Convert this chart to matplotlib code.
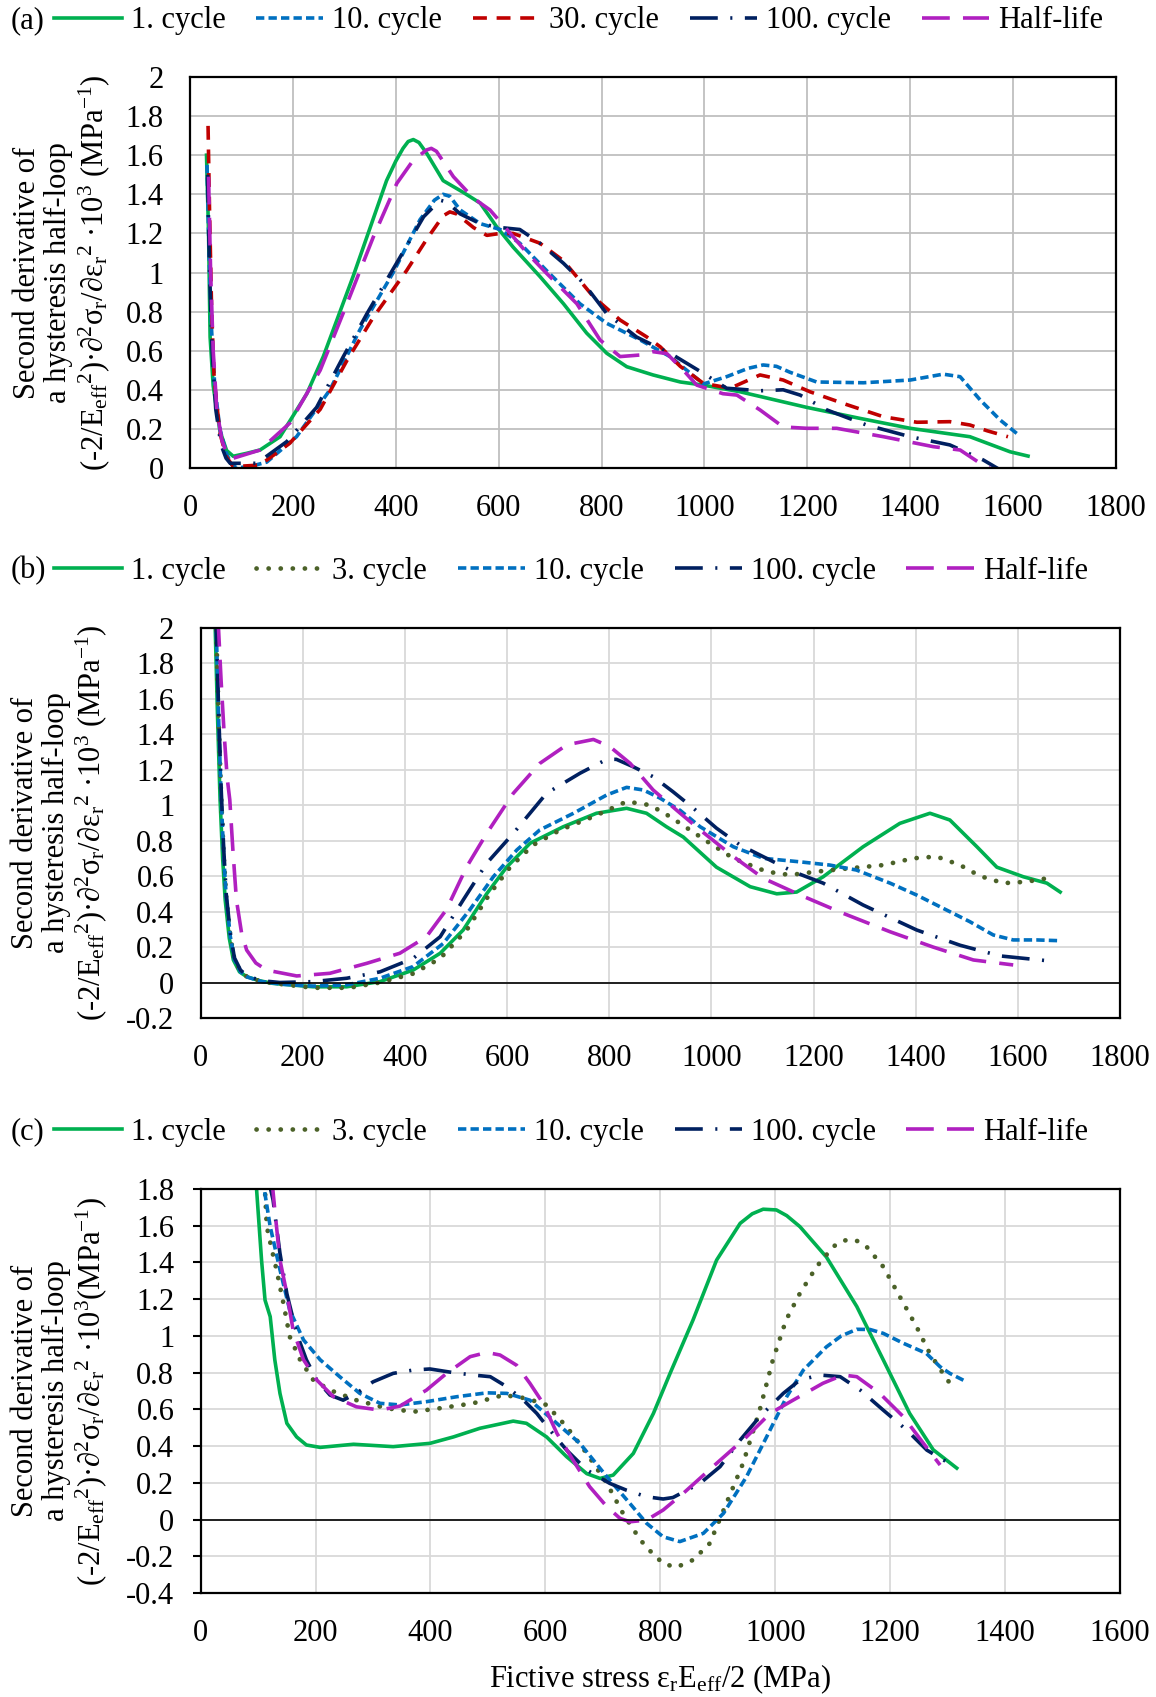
import matplotlib
matplotlib.use("Agg")
import matplotlib.pyplot as plt
from matplotlib.ticker import MultipleLocator, FuncFormatter

plt.rcParams['font.family'] = ['Liberation Serif', 'DejaVu Serif']
plt.rcParams['mathtext.fontset'] = 'custom'
plt.rcParams['mathtext.rm'] = 'Liberation Serif'
plt.rcParams['mathtext.it'] = 'Liberation Serif:italic'
plt.rcParams['font.size'] = 22
plt.rcParams['lines.scale_dashes'] = False

# ---- panel (a) ----
green_a_x = [32, 36, 39, 45, 58, 71, 84, 110, 136, 175, 227, 259, 317, 382, 400, 414, 424, 434, 445, 460, 492, 531, 564, 596, 628, 680, 726, 771, 810, 849, 900, 953, 998, 1069, 1199, 1300, 1400, 1516, 1594, 1629]
green_a_y = [1.60, 1.2, 0.67, 0.42, 0.19, 0.09, 0.06, 0.075, 0.092, 0.16, 0.38, 0.57, 0.98, 1.47, 1.57, 1.635, 1.67, 1.68, 1.665, 1.61, 1.47, 1.41, 1.355, 1.234, 1.13, 0.98, 0.84, 0.69, 0.587, 0.518, 0.476, 0.44, 0.424, 0.39, 0.31, 0.255, 0.203, 0.16, 0.083, 0.061]

blue_a_x = [33, 37, 42, 48, 58, 70, 80, 91, 120, 149, 207, 272, 330, 395, 447, 475, 492, 505, 525, 564, 603, 641, 693, 758, 810, 875, 933, 998, 1043, 1085, 1114, 1140, 1166, 1218, 1309, 1400, 1464, 1497, 1536, 1575, 1607]
blue_a_y = [1.55, 1.1, 0.7, 0.42, 0.2, 0.08, 0.02, 0.0, 0.01, 0.03, 0.16, 0.40, 0.706, 1.0, 1.27, 1.37, 1.40, 1.39, 1.32, 1.25, 1.22, 1.15, 1.01, 0.84, 0.74, 0.655, 0.57, 0.43, 0.467, 0.51, 0.527, 0.52, 0.49, 0.44, 0.436, 0.45, 0.48, 0.467, 0.348, 0.245, 0.177]

red_a_x = [35, 38, 42, 47, 58, 70, 84, 136, 194, 253, 305, 356, 421, 460, 492, 505, 518, 551, 577, 603, 628, 680, 726, 784, 836, 888, 914, 953, 998, 1050, 1108, 1153, 1205, 1270, 1348, 1413, 1477, 1516, 1550, 1590]
red_a_y = [1.75, 1.3, 0.8, 0.45, 0.18, 0.06, 0.007, 0.015, 0.127, 0.30, 0.55, 0.77, 1.01, 1.17, 1.29, 1.31, 1.30, 1.23, 1.19, 1.20, 1.20, 1.15, 1.06, 0.876, 0.757, 0.67, 0.62, 0.52, 0.433, 0.408, 0.476, 0.45, 0.39, 0.33, 0.262, 0.234, 0.237, 0.22, 0.19, 0.16]

navy_a_x = [34, 38, 43, 50, 60, 70, 78, 130, 188, 246, 298, 344, 402, 454, 486, 500, 525, 564, 603, 641, 680, 726, 765, 810, 868, 939, 998, 1043, 1108, 1153, 1186, 1238, 1315, 1400, 1477, 1542, 1575]
navy_a_y = [1.5, 1.0, 0.6, 0.3, 0.12, 0.05, 0.024, 0.024, 0.135, 0.31, 0.57, 0.79, 1.05, 1.285, 1.37, 1.36, 1.30, 1.25, 1.23, 1.22, 1.15, 1.047, 0.945, 0.79, 0.67, 0.578, 0.484, 0.408, 0.395, 0.40, 0.373, 0.297, 0.22, 0.16, 0.118, 0.041, -0.01]

purple_a_x = [36, 40, 45, 52, 62, 72, 84, 136, 194, 253, 305, 356, 402, 434, 460, 469, 479, 512, 551, 583, 616, 655, 693, 752, 797, 836, 875, 900, 927, 959, 985, 1036, 1063, 1108, 1153, 1199, 1257, 1348, 1445, 1497, 1536, 1555]
purple_a_y = [1.49, 1.0, 0.6, 0.3, 0.14, 0.07, 0.05, 0.092, 0.23, 0.50, 0.84, 1.18, 1.456, 1.575, 1.627, 1.635, 1.62, 1.49, 1.38, 1.32, 1.22, 1.10, 0.996, 0.84, 0.655, 0.57, 0.578, 0.595, 0.585, 0.50, 0.424, 0.38, 0.373, 0.297, 0.21, 0.203, 0.203, 0.16, 0.109, 0.092, 0.024, 0.0]

# ---- panel (b) ----
green_b_x = [28, 33, 38, 43, 48, 56, 64, 76, 90, 115, 142, 220, 286, 351, 416, 469, 514, 560, 599, 645, 710, 775, 834, 873, 912, 945, 1010, 1076, 1128, 1167, 1219, 1297, 1369, 1428, 1467, 1520, 1559, 1611, 1657, 1683]
green_b_y = [2.05, 1.5, 1.03, 0.7, 0.465, 0.25, 0.127, 0.06, 0.033, 0.01, -0.005, -0.024, -0.024, 0.005, 0.07, 0.165, 0.296, 0.50, 0.65, 0.785, 0.878, 0.954, 0.982, 0.954, 0.878, 0.82, 0.65, 0.54, 0.50, 0.51, 0.596, 0.765, 0.897, 0.954, 0.916, 0.765, 0.65, 0.596, 0.56, 0.51]

olive_b_x = [30, 35, 40, 45, 50, 58, 66, 78, 92, 120, 160, 220, 290, 351, 416, 469, 521, 566, 606, 651, 704, 769, 834, 880, 919, 958, 997, 1043, 1108, 1154, 1206, 1271, 1337, 1395, 1441, 1487, 1526, 1572, 1617, 1669]
olive_b_y = [2.05, 1.5, 1.05, 0.72, 0.48, 0.26, 0.13, 0.06, 0.03, 0.005, -0.01, -0.03, -0.03, 0.0, 0.05, 0.136, 0.296, 0.50, 0.65, 0.775, 0.86, 0.935, 1.02, 1.0, 0.935, 0.86, 0.785, 0.70, 0.625, 0.606, 0.625, 0.644, 0.662, 0.70, 0.71, 0.662, 0.60, 0.56, 0.568, 0.593]

blue_b_x = [30, 35, 40, 45, 50, 58, 66, 78, 92, 120, 160, 220, 286, 351, 416, 475, 527, 573, 619, 664, 730, 795, 834, 867, 899, 939, 978, 1043, 1102, 1174, 1232, 1284, 1350, 1402, 1454, 1506, 1552, 1591, 1637, 1679]
blue_b_y = [2.05, 1.5, 1.05, 0.72, 0.48, 0.26, 0.13, 0.06, 0.03, 0.005, -0.01, -0.02, -0.013, 0.024, 0.09, 0.22, 0.41, 0.596, 0.747, 0.86, 0.954, 1.057, 1.10, 1.085, 1.04, 0.97, 0.878, 0.765, 0.70, 0.68, 0.662, 0.634, 0.56, 0.493, 0.418, 0.343, 0.268, 0.24, 0.24, 0.236]

navy_b_x = [30, 35, 40, 45, 50, 58, 66, 78, 92, 120, 155, 220, 286, 351, 416, 469, 514, 560, 612, 677, 743, 795, 814, 847, 886, 925, 965, 1010, 1056, 1108, 1160, 1219, 1297, 1402, 1487, 1565, 1657]
navy_b_y = [2.05, 1.55, 1.1, 0.76, 0.5, 0.28, 0.14, 0.07, 0.035, 0.01, 0.0, 0.005, 0.024, 0.06, 0.136, 0.258, 0.465, 0.672, 0.84, 1.066, 1.18, 1.258, 1.258, 1.216, 1.16, 1.075, 0.982, 0.87, 0.775, 0.70, 0.625, 0.56, 0.437, 0.296, 0.21, 0.15, 0.123]

purple_b_x = [34, 40, 46, 52, 57, 63, 70, 80, 90, 108, 129, 188, 253, 325, 390, 442, 481, 521, 560, 612, 664, 717, 769, 801, 841, 886, 939, 978, 1043, 1102, 1174, 1258, 1350, 1434, 1513, 1591]
purple_b_y = [2.05, 1.7, 1.4, 1.15, 1.03, 0.75, 0.465, 0.28, 0.183, 0.11, 0.07, 0.037, 0.052, 0.108, 0.165, 0.258, 0.41, 0.653, 0.84, 1.066, 1.235, 1.34, 1.37, 1.33, 1.235, 1.085, 0.954, 0.86, 0.71, 0.587, 0.493, 0.39, 0.286, 0.20, 0.127, 0.099]

# ---- panel (c) ----
green_c_x = [95, 106, 112, 121, 129, 138, 150, 167, 184, 208, 266, 335, 399, 440, 486, 544, 567, 602, 637, 672, 695, 718, 753, 788, 817, 857, 898, 939, 960, 979, 1002, 1020, 1043, 1089, 1142, 1188, 1234, 1275, 1316]
green_c_y = [1.90, 1.41, 1.195, 1.105, 0.87, 0.687, 0.524, 0.45, 0.406, 0.393, 0.41, 0.397, 0.415, 0.45, 0.497, 0.536, 0.524, 0.45, 0.342, 0.25, 0.224, 0.242, 0.36, 0.578, 0.796, 1.087, 1.413, 1.613, 1.665, 1.69, 1.686, 1.655, 1.595, 1.43, 1.16, 0.87, 0.578, 0.38, 0.28]

olive_c_x = [108, 112, 115, 124, 132, 144, 155, 173, 196, 225, 271, 324, 370, 416, 474, 527, 567, 602, 637, 672, 707, 735, 765, 782, 805, 828, 857, 886, 915, 944, 973, 996, 1019, 1043, 1072, 1101, 1115, 1130, 1145, 1159, 1188, 1217, 1246, 1269, 1292, 1310]
olive_c_y = [1.9, 1.79, 1.595, 1.468, 1.36, 1.178, 0.996, 0.87, 0.76, 0.705, 0.65, 0.606, 0.587, 0.606, 0.633, 0.678, 0.66, 0.624, 0.505, 0.36, 0.197, 0.034, -0.11, -0.17, -0.24, -0.26, -0.22, -0.13, 0.088, 0.306, 0.596, 0.87, 1.087, 1.232, 1.377, 1.486, 1.515, 1.526, 1.515, 1.486, 1.377, 1.213, 1.05, 0.905, 0.796, 0.715]

blue_c_x = [108, 121, 138, 155, 179, 208, 242, 277, 312, 347, 393, 446, 498, 533, 573, 614, 660, 707, 747, 776, 805, 834, 875, 910, 950, 985, 1020, 1049, 1089, 1115, 1142, 1165, 1188, 1223, 1263, 1287, 1304, 1333]
blue_c_y = [1.85, 1.595, 1.36, 1.14, 0.978, 0.87, 0.778, 0.687, 0.633, 0.624, 0.642, 0.669, 0.69, 0.687, 0.65, 0.54, 0.415, 0.233, 0.088, -0.02, -0.094, -0.12, -0.075, 0.034, 0.233, 0.45, 0.669, 0.814, 0.94, 1.0, 1.036, 1.035, 1.014, 0.96, 0.905, 0.832, 0.796, 0.75]

navy_c_x = [118, 126, 138, 150, 167, 184, 202, 225, 248, 271, 300, 335, 370, 399, 440, 474, 504, 533, 562, 585, 608, 637, 672, 712, 741, 776, 805, 822, 869, 904, 939, 973, 1014, 1043, 1078, 1113, 1148, 1188, 1229, 1264, 1298]
navy_c_y = [1.85, 1.74, 1.45, 1.23, 1.014, 0.87, 0.76, 0.678, 0.65, 0.687, 0.75, 0.796, 0.814, 0.82, 0.80, 0.787, 0.778, 0.723, 0.65, 0.578, 0.487, 0.378, 0.27, 0.197, 0.16, 0.124, 0.112, 0.12, 0.197, 0.288, 0.433, 0.56, 0.687, 0.76, 0.787, 0.778, 0.705, 0.596, 0.487, 0.378, 0.315]

purple_c_x = [124, 129, 138, 150, 161, 179, 202, 231, 271, 312, 347, 393, 428, 469, 498, 521, 550, 573, 596, 620, 648, 677, 707, 730, 747, 776, 805, 840, 898, 950, 991, 1031, 1083, 1118, 1142, 1182, 1223, 1258, 1287]
purple_c_y = [1.85, 1.686, 1.413, 1.23, 1.03, 0.87, 0.76, 0.669, 0.614, 0.596, 0.618, 0.705, 0.796, 0.887, 0.91, 0.896, 0.84, 0.742, 0.633, 0.47, 0.324, 0.179, 0.07, 0.006, -0.012, -0.003, 0.052, 0.143, 0.306, 0.45, 0.578, 0.65, 0.742, 0.787, 0.778, 0.687, 0.56, 0.415, 0.297]

# line styles
LW = 2.6
GREEN = dict(color='#00B050', ls='-', lw=LW)
OLIVE = dict(color='#4B6128', ls=(0, (0.1, 8.6)), dash_capstyle='round', lw=3.4)
BLUE = dict(color='#0070C0', ls=(0, (6, 3)), lw=LW)
RED = dict(color='#C00000', ls=(0, (10, 7)), lw=LW)
NAVY = dict(color='#002060', ls=(0, (20, 9, 1.5, 9)), lw=LW)
PURPLE = dict(color='#B020C0', ls=(0, (20, 9.5)), lw=LW)

ylab_a = ("Second derivative of\na hysteresis half-loop\n"
          "(-2/E$_{\\rm eff}$$^{2}$)·∂$^{2}$σ$_{\\rm r}$/∂ε$_{\\rm r}$$^{2}$ ·10$^{3}$ (MPa$^{-1}$)")
ylab_c = ("Second derivative of\na hysteresis half-loop\n"
          "(-2/E$_{\\rm eff}$$^{2}$)·∂$^{2}$σ$_{\\rm r}$/∂ε$_{\\rm r}$$^{2}$ ·10$^{3}$(MPa$^{-1}$)")

fmt = FuncFormatter(lambda v, p: ('%g' % round(v, 2)))

fig = plt.figure(figsize=(11.56, 16.97), dpi=100)

ax_a = fig.add_axes([0.1644, 0.72422, 0.8010, 0.2304])
ax_b = fig.add_axes([0.1736, 0.40012, 0.7952, 0.2300])
ax_c = fig.add_axes([0.1736, 0.06128, 0.7952, 0.23807])

series_a = [(green_a_x, green_a_y, GREEN, '1. cycle'),
            (blue_a_x, blue_a_y, BLUE, '10. cycle'),
            (red_a_x, red_a_y, RED, '30. cycle'),
            (navy_a_x, navy_a_y, NAVY, '100. cycle'),
            (purple_a_x, purple_a_y, PURPLE, 'Half-life')]
series_b = [(green_b_x, green_b_y, GREEN, '1. cycle'),
            (olive_b_x, olive_b_y, OLIVE, '3. cycle'),
            (blue_b_x, blue_b_y, BLUE, '10. cycle'),
            (navy_b_x, navy_b_y, NAVY, '100. cycle'),
            (purple_b_x, purple_b_y, PURPLE, 'Half-life')]
series_c = [(green_c_x, green_c_y, GREEN, '1. cycle'),
            (olive_c_x, olive_c_y, OLIVE, '3. cycle'),
            (blue_c_x, blue_c_y, BLUE, '10. cycle'),
            (navy_c_x, navy_c_y, NAVY, '100. cycle'),
            (purple_c_x, purple_c_y, PURPLE, 'Half-life')]

panels = [(ax_a, series_a, (0, 1800), (0, 2), '#BFBFBF', ylab_a, 0.98763, '(a)', -0.138),
          (ax_b, series_b, (0, 1800), (-0.2, 2), '#D9D9D9', ylab_a, 0.66352, '(b)', -0.153),
          (ax_c, series_c, (0, 1600), (-0.4, 1.8), '#D9D9D9', ylab_c, 0.33294, '(c)', -0.153)]

for ax, series, xl, yl, gcol, ylab, legy, tag, labx in panels:
    handles = []
    for x, y, st, lab in series:
        h, = ax.plot(x, y, label=lab, **st)
        handles.append(h)
    ax.set_xlim(*xl)
    ax.set_ylim(*yl)
    ax.xaxis.set_major_locator(MultipleLocator(200))
    ax.yaxis.set_major_locator(MultipleLocator(0.2))
    ax.xaxis.set_major_formatter(fmt)
    ax.yaxis.set_major_formatter(fmt)
    ax.grid(True, color=gcol, lw=1.3)
    ax.set_axisbelow(True)
    for s in ax.spines.values():
        s.set_linewidth(1.6)
    ax.tick_params(axis='x', length=0, pad=19, labelsize=22)
    ax.tick_params(axis='y', length=0, pad=19, labelsize=22)
    if yl[0] < 0:
        ax.axhline(0, color='black', lw=1.2)
    ax.set_ylabel(ylab, fontsize=22, linespacing=1.1, va='center')
    ax.yaxis.set_label_coords(labx, 0.5)
    fig.text(0.0095, legy, tag, fontsize=22, va='center', ha='left')
    fig.legend(handles=handles, loc='center left', bbox_to_anchor=(0.047, legy),
               ncol=5, frameon=False, fontsize=22, handlelength=2.2,
               handletextpad=0.3, columnspacing=1.0, borderaxespad=0, borderpad=0)

ax_c.tick_params(axis='y', length=6, width=1.5, pad=13)

fig.text(0.571, 0.0106, "Fictive stress ε$_{\\rm r}$E$_{\\rm eff}$/2 (MPa)",
         fontsize=22, ha='center', va='center')

plt.savefig('out.png', dpi=100)
